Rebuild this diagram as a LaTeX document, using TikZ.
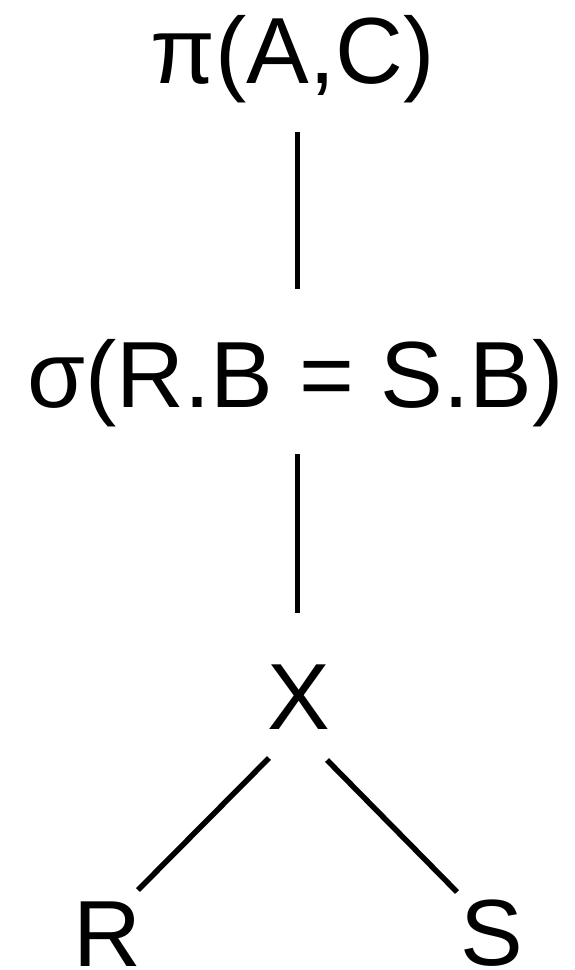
\documentclass[tikz,border=0pt]{standalone}
\usepackage{fontspec}
\setmainfont{Liberation Sans}
\begin{document}
\begin{tikzpicture}[x=1pt,y=-1pt,
  lbl/.style={anchor=base,inner sep=0pt,font=\fontsize{94}{100}\selectfont},
  edge/.style={line width=5.5pt,line cap=butt}]
\useasboundingbox (0,0) rectangle (575,970);
\node[lbl] (proj) at (292.5,83) {π(A,C)};
\node[lbl] (sel) at (295.5,407) {σ(R.B = S.B)};
\node[lbl] (prod) at (298.5,729) {X};
\node[lbl] (r) at (107.5,966) {R};
\node[lbl] (s) at (492,965) {S};
\coordinate (e1a) at (297.7,132);
\coordinate (e1b) at (297.7,289);
\coordinate (e2a) at (297.7,454);
\coordinate (e2b) at (297.7,613);
\coordinate (e3a) at (269,758);
\coordinate (e3b) at (138,890);
\coordinate (e4a) at (327,760);
\coordinate (e4b) at (457,892);
\draw[edge] (e1a) -- (e1b);
\draw[edge] (e2a) -- (e2b);
\draw[edge] (e3a) -- (e3b);
\draw[edge] (e4a) -- (e4b);
\end{tikzpicture}
\end{document}
